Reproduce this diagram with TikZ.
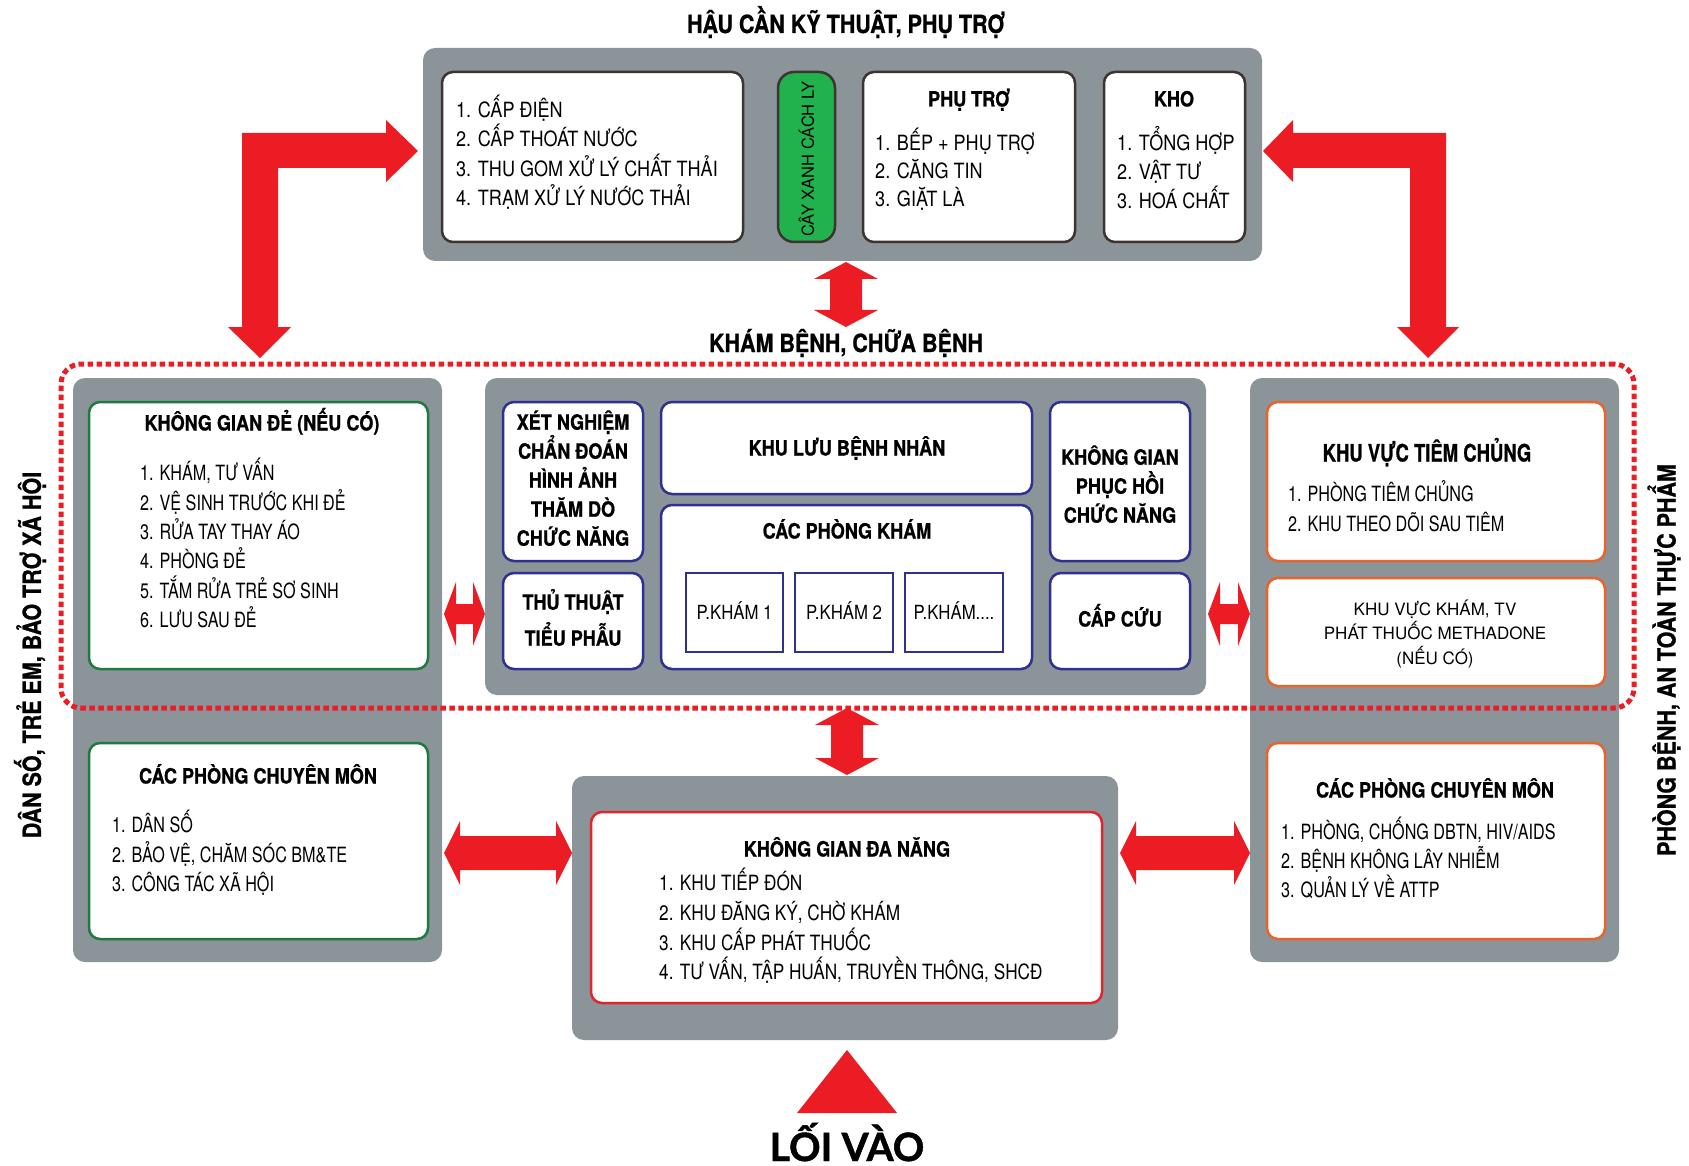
\documentclass[tikz,border=0pt]{standalone}
\usepackage{fontspec}
\setmainfont{TeX Gyre Heros}[FakeStretch=0.86, BoldFeatures={FakeBold=0.8}]
\newfontfamily\wide{TeX Gyre Heros}
\newfontfamily\condB{TeX Gyre Heros}[FakeStretch=0.77, BoldFeatures={FakeBold=0.8}]
\newfontfamily\condC{TeX Gyre Heros}[FakeStretch=0.82]
\newfontfamily\latof{Lato}[BoldFeatures={FakeBold=1.2}]
\definecolor{pgrey}{HTML}{8A9499}
\definecolor{ared}{HTML}{EC1C24}
\definecolor{dkb}{HTML}{3D3330}
\definecolor{gbrd}{HTML}{1E7A3E}
\definecolor{gfill}{HTML}{21B14D}
\definecolor{bbrd}{HTML}{2E3192}
\definecolor{obrd}{HTML}{E8642A}
\definecolor{rbrd}{HTML}{E2252B}
\newcommand\st{\rule{0pt}{25pt}}
\tikzset{
  panel/.style={fill=pgrey, draw=none, rounded corners=12pt, inner sep=0pt},
  wbox/.style={fill=white, draw=#1, line width=2.5pt, rounded corners=11pt, inner sep=0pt},
  sqbox/.style={fill=white, draw=bbrd, line width=2pt, inner sep=0pt},
  ttl/.style={font=\fontsize{21}{29}\selectfont\bfseries, anchor=base, inner sep=0pt},
  bigttl/.style={font=\fontsize{25}{30}\selectfont\bfseries, anchor=base, inner sep=0pt},
  lst/.style={font=\fontsize{21}{#1}\selectfont, anchor=north west, align=left, inner sep=0pt},
  lstB/.style={font=\condB\fontsize{21}{#1}\selectfont, anchor=north west, align=left, inner sep=0pt},
  lstC/.style={font=\condC\fontsize{21}{#1}\selectfont, anchor=north west, align=left, inner sep=0pt},
  cblk/.style={font=\fontsize{21}{#1}\selectfont\bfseries, anchor=north, align=center, inner sep=0pt},
  bigarrow/.style={fill=ared, draw=none},
  dotline/.style={draw=ared, line width=5pt, dash pattern=on 5.5pt off 3.5pt, rounded corners=20pt}
}
\begin{document}
\begin{tikzpicture}[x=1pt,y=-1pt]
\useasboundingbox (0,0) rectangle (1689,1166);
% ---------- grey panels
\node[panel, minimum width=839pt, minimum height=213pt] (toppanel) at (842.5,154.5) {};
\node[panel, minimum width=369pt, minimum height=584pt] (leftpanel) at (257.5,670) {};
\node[panel, minimum width=721pt, minimum height=317pt] (midpanel) at (845.5,536.5) {};
\node[panel, minimum width=369pt, minimum height=584pt] (rightpanel) at (1434.5,670) {};
\node[panel, minimum width=546pt, minimum height=264pt] (botpanel) at (845,908) {};
% ---------- dotted zone
\node[dotline, minimum width=1573pt, minimum height=344pt, inner sep=0pt] (zone) at (847.5,536) {};
% ---------- top boxes
\node[wbox=dkb, minimum width=301pt, minimum height=170pt] (b1) at (592.5,157) {};
\node[wbox=dkb, fill=gfill, rounded corners=16pt, minimum width=57pt, minimum height=170pt] (green) at (806.5,157) {};
\node[wbox=dkb, minimum width=212pt, minimum height=170pt] (phutro) at (969,157) {};
\node[wbox=dkb, minimum width=141pt, minimum height=170pt] (kho) at (1174.5,157) {};
% ---------- left boxes
\node[wbox=gbrd, minimum width=339pt, minimum height=267pt] (kgd) at (258.5,535.5) {};
\node[wbox=gbrd, minimum width=339pt, minimum height=196pt] (lcpcm) at (258.5,841) {};
% ---------- middle boxes
\node[wbox=bbrd, minimum width=140pt, minimum height=159pt] (xn) at (573,481.5) {};
\node[wbox=bbrd, minimum width=140pt, minimum height=96pt] (tt) at (573,621) {};
\node[wbox=bbrd, minimum width=371pt, minimum height=92pt] (klbn) at (846.5,448) {};
\node[wbox=bbrd, minimum width=371pt, minimum height=164pt] (cpk) at (846.5,587) {};
\node[sqbox, minimum width=97pt, minimum height=79pt] (pk1) at (734.5,612.5) {};
\node[sqbox, minimum width=98pt, minimum height=79pt] (pk2) at (844,612.5) {};
\node[sqbox, minimum width=98pt, minimum height=79pt] (pk3) at (954,612.5) {};
\node[wbox=bbrd, minimum width=140pt, minimum height=159pt] (kgph) at (1120,481.5) {};
\node[wbox=bbrd, minimum width=140pt, minimum height=96pt] (cc) at (1120,621) {};
% ---------- right boxes
\node[wbox=obrd, minimum width=338pt, minimum height=159pt] (kvtc) at (1436,481.5) {};
\node[wbox=obrd, minimum width=338pt, minimum height=108pt] (kvk) at (1436,632) {};
\node[wbox=obrd, minimum width=338pt, minimum height=196pt] (rcpcm) at (1436,841) {};
% ---------- bottom box
\node[wbox=rbrd, minimum width=511pt, minimum height=191pt] (kgdn) at (846.5,907.5) {};
% ---------- arrows
\path[bigarrow] (242,133) -- (386,133) -- (386,120) -- (418,151) -- (386,182) -- (386,168) -- (278,168) -- (278,327) -- (291,327) -- (260,358) -- (228,327) -- (242,327) -- cycle;
\path[bigarrow] (1446,133) -- (1293,133) -- (1293,120) -- (1263,151) -- (1293,182) -- (1293,168) -- (1410,168) -- (1410,327) -- (1397,327) -- (1428,358) -- (1459,327) -- (1446,327) -- cycle;
\path[bigarrow] (846,262) -- (878,279) -- (862,279) -- (862,310) -- (878,310) -- (846,327) -- (814,310) -- (830,310) -- (830,279) -- (814,279) -- cycle;
\path[bigarrow] (847,708) -- (879,725) -- (863,725) -- (863,758) -- (879,758) -- (847,775) -- (815,758) -- (831,758) -- (831,725) -- (815,725) -- cycle;
\path[bigarrow] (444,614) -- (456,582) -- (456,604) -- (473,604) -- (473,582) -- (485,614) -- (473,646) -- (473,624) -- (456,624) -- (456,646) -- cycle;
\path[bigarrow] (1208,614) -- (1220,582) -- (1220,604) -- (1238,604) -- (1238,582) -- (1250,614) -- (1238,646) -- (1238,624) -- (1220,624) -- (1220,646) -- cycle;
\path[bigarrow] (444,853) -- (460,821) -- (460,836) -- (556,836) -- (556,821) -- (572,853) -- (556,885) -- (556,870) -- (460,870) -- (460,885) -- cycle;
\path[bigarrow] (1120,853) -- (1136,821) -- (1136,836) -- (1234,836) -- (1234,821) -- (1250,853) -- (1234,885) -- (1234,870) -- (1136,870) -- (1136,885) -- cycle;
\path[bigarrow] (847,1050) -- (897,1113) -- (797,1113) -- cycle;
% ---------- titles
\node[bigttl] (t1) at (846,33) {HẬU CẦN KỸ THUẬT, PHỤ TRỢ};
\node[bigttl] (t2) at (846,352) {KHÁM BỆNH, CHỮA BỆNH};
\node[font=\fontsize{25}{30}\selectfont\bfseries, rotate=90, inner sep=0pt] (sl) at (30,655) {DÂN SỐ, TRẺ EM, BẢO TRỢ XÃ HỘI};
\node[font=\fontsize{25}{30}\selectfont\bfseries, rotate=90, inner sep=0pt] (sr) at (1664,660) {PHÒNG BỆNH, AN TOÀN THỰC PHẨM};
\node[font=\latof\fontsize{39}{42}\selectfont\bfseries, anchor=base, inner sep=0pt] (entry) at (847,1161) {LỐI VÀO};
% ---------- top texts
\node[lst=29.3] (b1t) at (456,92.5) {\st 1. CẤP ĐIỆN\\2. CẤP THOÁT NƯỚC\\3. THU GOM XỬ LÝ CHẤT THẢI\\4. TRẠM XỬ LÝ NƯỚC THẢI};
\node[font=\wide\fontsize{16.5}{18}\selectfont, rotate=90, inner sep=0pt] (greent) at (806.5,159) {CÂY XANH CÁCH LY};
\node[ttl] (pttl) at (969,106.5) {PHỤ TRỢ};
\node[lst=28] (ptt) at (875,125.5) {\st 1. BẾP + PHỤ TRỢ\\2. CĂNG TIN\\3. GIẶT LÀ};
\node[ttl] (khottl) at (1174,106.5) {KHO};
\node[lst=29] (khot) at (1117,125.5) {\st 1. TỔNG HỢP\\2. VẬT TƯ\\3. HOÁ CHẤT};
% ---------- left texts
\node[ttl] (kgdttl) at (262,430.5) {KHÔNG GIAN ĐẺ (NẾU CÓ)};
\node[lstB=29.4] (kgdt) at (140,455.5) {\st 1. KHÁM, TƯ VẤN\\2. VỆ SINH TRƯỚC KHI ĐẺ\\3. RỬA TAY THAY ÁO\\4. PHÒNG ĐẺ\\5. TẮM RỬA TRẺ SƠ SINH\\6. LƯU SAU ĐẺ};
\node[ttl] (lcpcmttl) at (258,783.5) {CÁC PHÒNG CHUYÊN MÔN};
\node[lstB=29.5] (lcpcmt) at (112,807.5) {\st 1. DÂN SỐ\\2. BẢO VỆ, CHĂM SÓC BM\&TE\\3. CÔNG TÁC XÃ HỘI};
% ---------- middle texts
\node[cblk=29] (xnt) at (573,404.5) {\st XÉT NGHIỆM\\CHẨN ĐOÁN\\HÌNH ẢNH\\THĂM DÒ\\CHỨC NĂNG};
\node[cblk=36] (ttt) at (573,584.5) {\st THỦ THUẬT\\TIỂU PHẪU};
\node[ttl] (klbnt) at (847,455.5) {KHU LƯU BỆNH NHÂN};
\node[ttl] (cpkt) at (847,538.5) {CÁC PHÒNG KHÁM};
\node[font=\fontsize{19.5}{22}\selectfont, anchor=base, inner sep=0pt] (pk1t) at (734.5,619) {P.KHÁM 1};
\node[font=\fontsize{19.5}{22}\selectfont, anchor=base, inner sep=0pt] (pk2t) at (844,619) {P.KHÁM 2};
\node[font=\fontsize{19.5}{22}\selectfont, anchor=base, inner sep=0pt] (pk3t) at (954,619) {P.KHÁM....};
\node[cblk=29] (kgpht) at (1120,439.5) {\st KHÔNG GIAN\\PHỤC HỒI\\CHỨC NĂNG};
\node[ttl] (cct) at (1120,626.5) {CẤP CỨU};
% ---------- right texts
\node[ttl, font=\condB\fontsize{24}{29}\selectfont\bfseries] (kvtcttl) at (1427,461.5) {KHU VỰC TIÊM CHỦNG};
\node[lstB=30] (kvtct) at (1288,476.5) {\st 1. PHÒNG TIÊM CHỦNG\\2. KHU THEO DÕI SAU TIÊM};
\node[font=\wide\fontsize{17}{24.5}\selectfont, anchor=north, align=center, inner sep=0pt] (kvkt) at (1435,595) {\rule{0pt}{20pt}KHU VỰC KHÁM, TV\\PHÁT THUỐC METHADONE\\(NẾU CÓ)};
\node[ttl] (rcpcmttl) at (1435,797.5) {CÁC PHÒNG CHUYÊN MÔN};
\node[lstB=29] (rcpcmt) at (1281,814.5) {\st 1. PHÒNG, CHỐNG DBTN, HIV/AIDS\\2. BỆNH KHÔNG LÂY NHIỄM\\3. QUẢN LÝ VỀ ATTP};
% ---------- bottom texts
\node[ttl] (kgdnttl) at (847,856.5) {KHÔNG GIAN ĐA NĂNG};
\node[lstC=29.7] (kgdnt) at (659,865.5) {\st 1. KHU TIẾP ĐÓN\\2. KHU ĐĂNG KÝ, CHỜ KHÁM\\3. KHU CẤP PHÁT THUỐC\\4. TƯ VẤN, TẬP HUẤN, TRUYỀN THÔNG, SHCĐ};
\end{tikzpicture}
\end{document}
